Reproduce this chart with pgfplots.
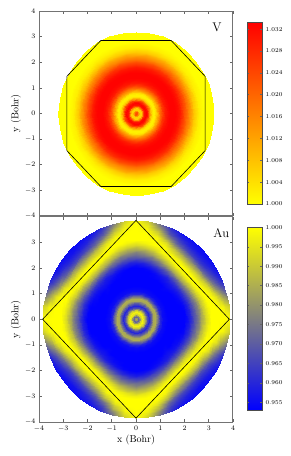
\documentclass[border=0pt]{standalone}
\usepackage{pgfplots}
\usepackage{pgfplotstable}
\pgfplotsset{compat=1.18}

% radial profile of the V map (value vs. radius in Bohr)
\pgfplotstableread{
r v
0.00 1.024
0.05 1.022
0.10 1.014
0.15 1.006
0.20 1.006
0.25 1.014
0.30 1.025
0.35 1.031
0.40 1.033
0.45 1.031
0.50 1.025
0.55 1.016
0.60 1.009
0.65 1.004
0.70 1.002
0.75 1.002
0.80 1.004
0.85 1.008
0.90 1.012
1.00 1.020
1.10 1.026
1.20 1.030
1.30 1.032
1.40 1.033
1.50 1.033
1.60 1.033
1.70 1.032
1.80 1.030
1.90 1.027
2.00 1.023
2.10 1.019
2.20 1.015
2.30 1.011
2.40 1.007
2.50 1.004
2.60 1.002
2.70 1.001
2.80 1.000
3.00 1.000
3.20 1.000
}\profV

% Au map: value vs. radius for polar angles 0,7.5,...,45 deg
\pgfplotstableread{
r c0 c1 c2 c3 c4 c5 c6
0.00 0.984 0.984 0.984 0.984 0.984 0.984 0.984
0.05 0.980 0.980 0.980 0.980 0.980 0.980 0.980
0.10 0.971 0.971 0.971 0.971 0.971 0.971 0.971
0.15 0.980 0.980 0.980 0.980 0.980 0.980 0.980
0.20 0.992 0.992 0.992 0.992 0.992 0.992 0.992
0.27 0.998 0.998 0.998 0.998 0.998 0.998 0.998
0.35 0.990 0.990 0.990 0.990 0.990 0.990 0.990
0.45 0.967 0.967 0.967 0.967 0.967 0.967 0.967
0.53 0.960 0.960 0.960 0.960 0.960 0.960 0.960
0.62 0.970 0.970 0.970 0.970 0.970 0.970 0.970
0.72 0.984 0.984 0.984 0.984 0.984 0.984 0.984
0.80 0.985 0.985 0.985 0.985 0.985 0.985 0.985
0.90 0.972 0.972 0.972 0.972 0.972 0.972 0.972
1.00 0.960 0.960 0.960 0.960 0.960 0.960 0.960
1.10 0.955 0.955 0.955 0.955 0.955 0.955 0.955
1.30 0.953 0.953 0.953 0.953 0.953 0.953 0.953
1.50 0.953 0.953 0.953 0.953 0.953 0.953 0.953
1.70 0.953 0.953 0.953 0.953 0.953 0.953 0.954
1.90 0.953 0.953 0.953 0.954 0.955 0.956 0.957
2.00 0.953 0.953 0.954 0.956 0.957 0.958 0.959
2.10 0.955 0.956 0.957 0.959 0.961 0.962 0.963
2.20 0.958 0.959 0.961 0.963 0.966 0.968 0.969
2.30 0.963 0.964 0.966 0.969 0.972 0.975 0.976
2.40 0.968 0.969 0.971 0.975 0.979 0.983 0.984
2.50 0.973 0.974 0.976 0.981 0.986 0.990 0.991
2.60 0.977 0.979 0.982 0.987 0.993 0.996 0.997
2.70 0.983 0.985 0.988 0.993 0.998 1.000 1.000
2.80 0.988 0.990 0.993 0.998 1.000 1.000 1.000
2.90 0.993 0.995 0.997 1.000 0.999 0.997 0.996
3.00 0.997 0.998 1.000 1.000 0.995 0.992 0.991
3.10 1.000 1.000 1.000 0.998 0.990 0.986 0.984
3.20 1.000 1.000 1.000 0.994 0.984 0.979 0.977
3.30 1.000 1.000 0.998 0.988 0.977 0.972 0.970
3.40 1.000 1.000 0.995 0.981 0.971 0.966 0.965
3.50 1.000 0.999 0.990 0.975 0.966 0.962 0.961
3.60 1.000 0.998 0.985 0.969 0.962 0.959 0.958
3.70 1.000 0.995 0.980 0.965 0.959 0.957 0.956
3.85 1.000 0.991 0.974 0.960 0.956 0.955 0.955
}\profAu

\pgfplotsforeachungrouped \i in {0,...,36}{\pgfplotstablevertcat{\gridV}{\profV}}%
\pgfplotsforeachungrouped \i in {0,...,48}{\pgfplotstablevertcat{\gridAu}{\profAu}}%

\pgfplotsset{
  mainax/.style={
    scale only axis, width=194pt,
    xmin=-4, xmax=4, ymin=-4, ymax=4,
    xtick={-4,...,4}, ytick={-4,...,4},
    tick align=inside, major tick length=3pt,
    tick style={black!60, line width=0.5pt},
    axis line style={black!55, line width=1pt},
    ticklabel style={font=\fontsize{7.5}{8}\selectfont},
    label style={font=\fontsize{10}{12}\selectfont},
    ylabel={y (Bohr)},
    ylabel style={at={(axis description cs:-0.1186,0.5)}, anchor=center},
    axis on top,
    colorbar,
    colorbar shift/.style={},
  },
  cbar/.style={
    at={(parent axis.north east)}, anchor=north west,
    xshift=14.3pt, width=14.7pt,
    axis line style={black!70, line width=0.6pt},
    tick align=inside, major tick length=2pt,
    tick style={black!60, line width=0.4pt},
    yticklabel style={font=\fontsize{6.5}{7}\selectfont,
      /pgf/number format/.cd, fixed, fixed zerofill, precision=3},
    scaled y ticks=false,
  },
}

\begin{document}%
\begin{tikzpicture}
\useasboundingbox (0,0) rectangle (291pt,-456pt);

% ---------- top panel: V ----------
\begin{axis}[mainax,
  at={(39pt,-11pt)}, anchor=north west, height=205pt,
  xticklabels={},
  colormap={autumnr}{rgb=(1,1,0) rgb=(1,0,0)},
  point meta min=1.0, point meta max=1.0333,
  colorbar style={cbar, yshift=-11pt, height=182pt,
    ytick={1.000,1.004,1.008,1.012,1.016,1.020,1.024,1.028,1.032}},
]
\addplot[surf, shader=interp, mesh/cols=40, point meta=explicit]
  table[x expr={\thisrow{r}*cos(10*floor((\coordindex+0.5)/40))},
        y expr={\thisrow{r}*sin(10*floor((\coordindex+0.5)/40))},
        meta=v] {\gridV};
\addplot[black, line width=0.6pt, no marks] coordinates {
  (1.45,2.85) (2.85,1.45) (2.85,-1.45) (1.45,-2.85)
  (-1.45,-2.85) (-2.85,-1.45) (-2.85,1.45) (-1.45,2.85) (1.45,2.85)};
\node[anchor=north east, inner sep=0pt, font=\fontsize{12.5}{14}\selectfont]
  at (rel axis cs:0.942,0.943) {V};
\end{axis}

% ---------- bottom panel: Au ----------
\begin{axis}[mainax,
  at={(39pt,-216.5pt)}, anchor=north west, height=205.5pt,
  yticklabels={$-4$,$-3$,$-2$,$-1$,$0$,$1$,$2$,$3$,{}},
  xlabel={x (Bohr)},
  xlabel style={at={(axis description cs:0.5,-0.088)}, anchor=center},
  colormap={byel}{rgb=(0,0,1) rgb=(1,1,0)},
  point meta min=0.9529, point meta max=1.0,
  colorbar style={cbar, yshift=-10.8pt, height=183pt,
    ytick={0.955,0.960,0.965,0.970,0.975,0.980,0.985,0.990,0.995,1.000}},
  declare function={qi(\c)=min(mod(floor((\c+0.5)/38),12),12-mod(floor((\c+0.5)/38),12));},
]
\addplot[surf, shader=interp, mesh/cols=38,
  point meta={(qi(\coordindex)==0)*\thisrow{c0}+(qi(\coordindex)==1)*\thisrow{c1}
   +(qi(\coordindex)==2)*\thisrow{c2}+(qi(\coordindex)==3)*\thisrow{c3}
   +(qi(\coordindex)==4)*\thisrow{c4}+(qi(\coordindex)==5)*\thisrow{c5}
   +(qi(\coordindex)==6)*\thisrow{c6}}]
  table[x expr={\thisrow{r}*cos(7.5*floor((\coordindex+0.5)/38))},
        y expr={\thisrow{r}*sin(7.5*floor((\coordindex+0.5)/38))}] {\gridAu};
\addplot[black, line width=0.6pt, no marks] coordinates {
  (3.85,0) (0,3.85) (-3.85,0) (0,-3.85) (3.85,0)};
\node[anchor=north east, inner sep=0pt, font=\fontsize{12.5}{14}\selectfont]
  at (rel axis cs:0.981,0.943) {Au};
\end{axis}
\end{tikzpicture}%
\end{document}
